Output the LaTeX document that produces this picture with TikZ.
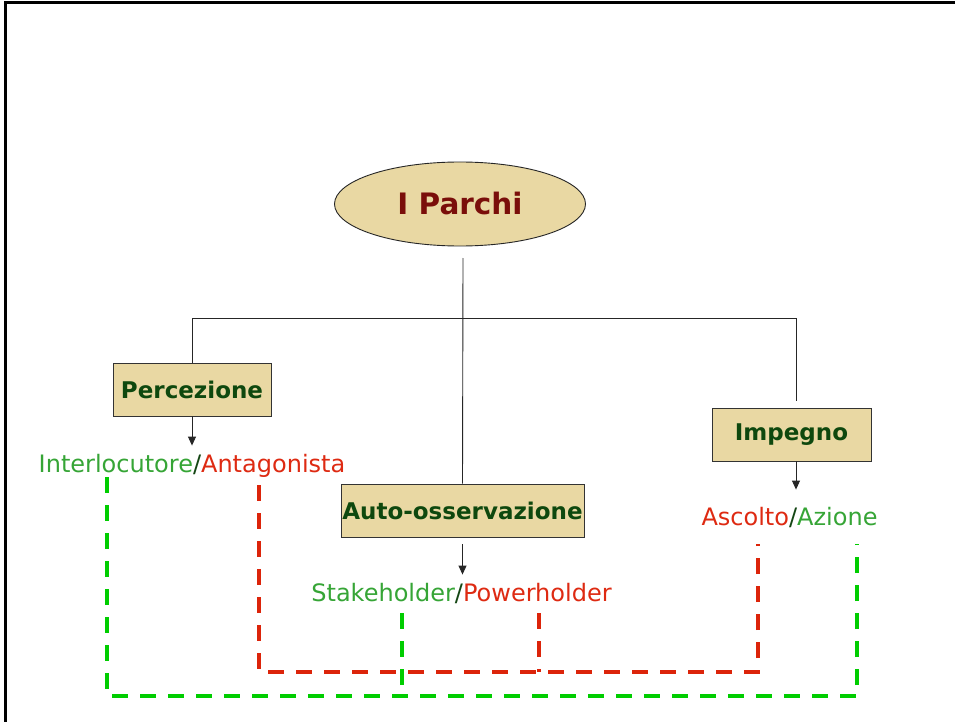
\documentclass[tikz,border=0pt]{standalone}
\usepackage{fontspec}
\setmainfont{DejaVu Sans}
\usetikzlibrary{shapes.geometric,arrows.meta}
\definecolor{boxfill}{RGB}{233,216,163}
\definecolor{titlegreen}{RGB}{14,72,14}
\definecolor{titlered}{RGB}{122,14,10}
\definecolor{txtgreen}{RGB}{54,165,54}
\definecolor{txtred}{RGB}{222,42,18}
\definecolor{slashgreen}{RGB}{20,70,20}
\definecolor{dashgreen}{RGB}{0,205,0}
\definecolor{dashred}{RGB}{220,36,10}
\begin{document}
\begin{tikzpicture}[x=1pt,y=-1pt,
  box/.style={draw=black!80,line width=0.9pt,fill=boxfill,minimum height=53pt,inner sep=0pt,
    font=\fontsize{23}{28}\selectfont\bfseries,text=titlegreen},
  lab/.style={anchor=base,inner sep=0pt,font=\fontsize{24}{29}\selectfont},
  tree/.style={draw=black!85,line width=0.9pt},
  arr/.style={tree,-{Triangle[length=9pt,width=8pt]}},
  gdash/.style={draw=dashgreen,line width=3.5pt,dash pattern=on 16pt off 12pt},
  rdash/.style={draw=dashred,line width=3.5pt,dash pattern=on 16pt off 12pt}]
\useasboundingbox (0,0) rectangle (955,722);
\fill[white] (0,0) rectangle (955,722);
\draw[line width=3pt] (5,722) -- (5,3) -- (955,3);

\node[ellipse,draw=black!85,line width=0.9pt,fill=boxfill,minimum width=251pt,minimum height=84pt,inner sep=0pt,
  text=titlered,font=\fontsize{29.5}{35}\selectfont\bfseries] (parchi) at (460,204) {I Parchi};

\node[box,minimum width=158pt] (perc) at (192,389.5) {Percezione};
\node[box,minimum width=243pt] (auto) at (462.5,510.5) {Auto-osservazione};
\node[box,minimum width=159pt] (imp) at (791.5,434.5) {Impegno};

\node[lab] (l1) at (192,472) {\textcolor{txtgreen}{Interlocutore}\textcolor{slashgreen}{/}\textcolor{txtred}{Antagonista}};
\node[lab] (l2) at (461.5,601) {\textcolor{txtgreen}{Stakeholder}\textcolor{slashgreen}{/}\textcolor{txtred}{Powerholder}};
\node[lab] (l3) at (789.5,525) {\textcolor{txtred}{Ascolto}\textcolor{slashgreen}{/}\textcolor{txtgreen}{Azione}};

% tree
\coordinate (top) at (463,258);
\coordinate (hub) at (463,318);
\coordinate (rtop) at (796,401);
\draw[tree] (top) -- (auto.north);
\draw[tree] (perc.north) -- (perc.north |- hub) -- (rtop |- hub) -- (rtop);

% arrows
\draw[arr] (perc.south) -- ([yshift=8pt]perc.south |- l1.north);
\draw[arr] ([yshift=-7pt]auto.south) -- ([yshift=8pt]auto.south |- l2.north);
\draw[arr] ([xshift=4.5pt]imp.south) -- ([yshift=17pt]rtop |- l3.north);

% dashed connectors
\coordinate (r1) at (259,485);
\coordinate (r2) at (758,544);
\coordinate (r3) at (539,613);
\coordinate (rb) at (0,672);
\coordinate (g1) at (107,477);
\coordinate (g2) at (857,544);
\coordinate (g3) at (402,613);
\coordinate (g4) at (402,688);
\coordinate (gb) at (0,696);
\draw[rdash] (r1) -- (r1 |- rb) -- (r2 |- rb) -- (r2);
\draw[rdash] (r3) -- (r3 |- rb);
\draw[gdash] (g1) -- (g1 |- gb) -- (g2 |- gb) -- (g2);
\draw[gdash] (g3) -- (g4);
\end{tikzpicture}
\end{document}
